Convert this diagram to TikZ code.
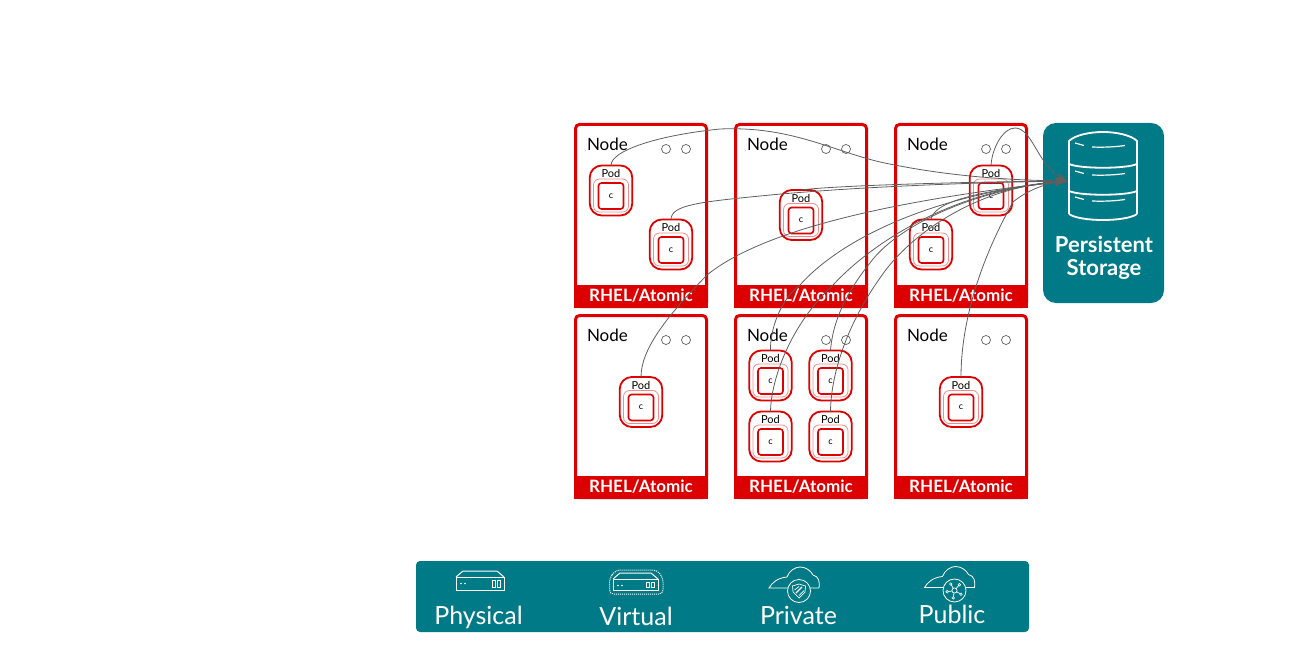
\documentclass[tikz,border=0pt]{standalone}
\usepackage{xcolor}
\usepackage{fontspec}
\setmainfont{Lato}
\usetikzlibrary{arrows.meta}
\definecolor{hostRed}{HTML}{DD0000}
\definecolor{paleRed}{HTML}{F08C8C}
\definecolor{bannerTeal}{HTML}{007A87}
\definecolor{linkGray}{HTML}{5F5F5F}

\begin{document}
\begin{tikzpicture}[x = 1pt, y = -1pt,
						every node/.style = {outer sep = 0pt},
						hostFrame/.style = {draw = hostRed, line width = 3pt, rounded corners = 4pt, minimum width = 131pt, minimum height = 182pt, inner sep = 0pt},
						hostBand/.style = {fill = hostRed, text = white, minimum width = 134pt, minimum height = 23pt, inner sep = 0pt, font = \fontsize{17}{20}\selectfont\bfseries},
						hostLabel/.style = {inner sep = 0pt, anchor = west, font = \fontsize{17}{20}\selectfont},
						hostDot/.style = {draw = linkGray, line width = 0.7pt},
						podOuter/.style = {draw = hostRed, line width = 1.8pt, rounded corners = 12pt, minimum width = 42.5pt, minimum height = 50pt, inner sep = 0pt},
						podMiddle/.style = {draw = paleRed, line width = 0.8pt, rounded corners = 6pt, minimum width = 35pt, minimum height = 33pt, inner sep = 0pt},
						podInner/.style = {draw = hostRed, line width = 1.6pt, rounded corners = 3pt, minimum width = 25pt, minimum height = 26pt, inner sep = 0pt, font = \fontsize{9}{10}\selectfont},
						podLabel/.style = {inner sep = 0pt, font = \fontsize{11}{13}\selectfont},
						podLink/.style = {draw = linkGray, line width = 0.8pt, -{Stealth[length = 12pt, width = 8pt]}},
						iconLine/.style = {draw = white, line width = 1pt},
						baseLabel/.style = {text = white, inner sep = 0pt, font = \fontsize{25}{28}\selectfont},
						]

	\useasboundingbox (0, 0) rectangle (1297, 660);

	% Storage box
	\node[fill = bannerTeal, rounded corners = 13pt, minimum width = 121pt, minimum height = 180pt, inner sep = 0pt] (storage) at (1103.5, 213) {};
	\node[text = white, align = center, inner sep = 0pt, font = \fontsize{22}{23}\selectfont\bfseries] (storageLabel) at (1104, 258) {Persistent\\Storage};
	\coordinate (storageTip) at (1067, 181);

	% Database stack
	\draw[draw = white, line width = 1.8pt, line join = round] (1069, 214) -- (1069, 141) .. controls (1075, 135) and (1090, 132) .. (1103, 132) .. controls (1116, 132) and (1131, 135) .. (1137, 141) -- (1137, 214);
	\foreach \dy/\sag in {0/5, 27/5, 50/8} {
		\draw[draw = white, line width = 1.8pt] (1069, 164 + \dy) .. controls (1080, 164 + \dy + \sag) and (1126, 164 + \dy + \sag) .. (1137, 164 + \dy);
	}
	\foreach \dy in {0, 28, 54} {
		\draw[draw = white, line width = 1.2pt] (1075, 143 + \dy) -- (1084, 145.5 + \dy);
		\draw[draw = white, line width = 1.2pt] (1092, 147 + \dy) .. controls (1103, 147.5 + \dy) and (1115, 147 + \dy) .. (1125, 145.5 + \dy);
	}

	% Hosts
	\foreach \hostName/\hostX/\hostY in {hostA/641/215.5, hostB/801/215.5, hostC/961/215.5, hostD/641/406.5, hostE/801/406.5, hostF/961/406.5} {
		\node[hostFrame] (\hostName) at (\hostX, \hostY) {};
		\node[hostBand, anchor = south] (\hostName Band) at ([yshift = -1pt]\hostName.south) {RHEL/Atomic};
		\node[hostLabel] (\hostName Label) at ([xshift = -54pt, yshift = -19.5pt]\hostName.north) {Node};
		\draw[hostDot] ([xshift = 25pt, yshift = -24.5pt]\hostName.north) circle[radius = 4.5];
		\draw[hostDot] ([xshift = 45pt, yshift = -24.5pt]\hostName.north) circle[radius = 4.5];
	}

	% Pods
	\foreach \podName/\podX/\podY in {podA/611/190.5, podB/671/244.5, podC/801/215, podD/991/190.5, podE/931/244.5, podF/641/402, podG/770.5/375.5, podH/830.5/375.5, podI/770.5/436.5, podJ/830.5/436.5, podK/961/402} {
		\node[podOuter] (\podName) at (\podX, \podY) {};
		\node[podMiddle] (\podName Middle) at ([yshift = -5pt]\podName.center) {};
		\node[podInner] (\podName Inner) at ([yshift = -5.5pt]\podName.center) {c};
		\node[podLabel] (\podName Label) at ([yshift = -8pt]\podName.north) {Pod};
	}

	% Links to storage
	\draw[podLink] (podA.north) .. controls (611, 150) and (660, 135) .. (720, 129) .. controls (790, 126) and (830, 150) .. (880, 162) .. controls (940, 175) and (1000, 180) .. (storageTip);
	\draw[podLink] (podB.north) .. controls (671, 205) and (700, 202) .. (760, 196) .. controls (840, 188) and (950, 183) .. (storageTip);
	\draw[podLink] (podC.north) .. controls (830, 186) and (950, 182) .. (storageTip);
	\draw[podLink] (podD.north) .. controls (992, 148) and (1003, 128) .. (1015, 128) .. controls (1032, 128) and (1038, 165) .. (storageTip);
	\draw[podLink] (podE.north) .. controls (934, 205) and (960, 193) .. (storageTip);
	\draw[podLink] (podF.north) .. controls (641, 350) and (665, 318) .. (707, 275) .. controls (750, 240) and (850, 205) .. (storageTip);
	\draw[podLink] (podG.north) .. controls (770, 330) and (780, 300) .. (800, 285) .. controls (840, 240) and (930, 195) .. (storageTip);
	\draw[podLink] (podH.north) .. controls (832, 330) and (840, 300) .. (870, 263) .. controls (895, 228) and (970, 190) .. (storageTip);
	\draw[podLink] (podI.north) .. controls (771, 380) and (790, 325) .. (833, 285) .. controls (870, 245) and (950, 190) .. (storageTip);
	\draw[podLink] (podJ.north) .. controls (831, 370) and (850, 320) .. (880, 278) .. controls (905, 240) and (970, 188) .. (storageTip);
	\draw[podLink] (podK.north) .. controls (961, 330) and (975, 270) .. (1013, 202) .. controls (1030, 188) and (1050, 183) .. (storageTip);

	% Footprint banner
	\node[fill = bannerTeal, rounded corners = 4pt, minimum width = 613pt, minimum height = 71pt, inner sep = 0pt] (banner) at (722.5, 596.5) {};
	\node[baseLabel] (physicalLabel) at (478.5, 617.5) {Physical};
	\node[baseLabel] (virtualLabel) at (636, 616) {Virtual};
	\node[baseLabel] (privateLabel) at (798.5, 615) {Private};
	\node[baseLabel] (publicLabel) at (952, 614) {Public};

	% Server icons
	\foreach \ix/\iy/\iw/\ih in {456/571/48/19, 613/573/45/17} {
		\draw[iconLine] (\ix, \iy + 6) rectangle (\ix + \iw, \iy + \ih);
		\draw[iconLine] (\ix, \iy + 6) -- (\ix + 7, \iy) -- (\ix + \iw - 7, \iy) -- (\ix + \iw, \iy + 6);
		\fill[white] (\ix + 5, \iy + 12.5) circle[radius = 0.8];
		\fill[white] (\ix + 9, \iy + 12.5) circle[radius = 0.8];
		\draw[iconLine, line width = 0.7pt] (\ix + \iw - 12, \iy + 9) rectangle (\ix + \iw - 9, \iy + \ih - 3);
		\draw[iconLine, line width = 0.7pt] (\ix + \iw - 7, \iy + 9) rectangle (\ix + \iw - 4, \iy + \ih - 3);
	}
	\draw[iconLine, densely dotted, rounded corners = 4pt] (609.5, 578) -- (616, 570) -- (657, 570) -- (663, 578) -- (663, 594) -- (609.5, 594) -- cycle;

	% Cloud icons
	\foreach \ix/\iy in {799/591, 954.5/590.5} {
		\draw[iconLine, line width = 0.8pt] (\ix - 30, \iy - 3) .. controls (\ix - 27, \iy - 8) and (\ix - 22, \iy - 13) .. (\ix - 12, \iy - 14) .. controls (\ix - 10, \iy - 20) and (\ix - 4, \iy - 24) .. (\ix + 1, \iy - 24) .. controls (\ix + 7, \iy - 24) and (\ix + 12, \iy - 20) .. (\ix + 14, \iy - 16) .. controls (\ix + 20, \iy - 15) and (\ix + 21, \iy - 8) .. (\ix + 20, \iy - 3) -- cycle;
		\fill[bannerTeal] (\ix, \iy) circle[radius = 11.5];
		\draw[iconLine, line width = 0.8pt] (\ix, \iy) circle[radius = 11.5];
	}

	% Shield inside the private cloud
	\draw[iconLine, line width = 0.7pt] (792.5, 586) -- (799, 584) -- (805.5, 586) -- (805, 592) -- (799, 598) -- (793, 592) -- cycle;
	\draw[iconLine, line width = 1.2pt] (796, 593) -- (802, 587);
	\draw[iconLine, line width = 0.7pt] (794.5, 590) -- (799, 586.5);
	\draw[iconLine, line width = 0.7pt] (799, 595.5) -- (804, 590.5);

	% Hub inside the public cloud
	\foreach \spokeAngle in {30, 100, 170, 240, 310} {
		\draw[iconLine, line width = 0.7pt] (954.5, 590.5) -- ++(\spokeAngle : 7);
		\draw[iconLine, line width = 0.6pt, fill = bannerTeal] (954.5, 590.5) ++(\spokeAngle : 7.5) circle[radius = 1.3];
	}
	\draw[iconLine, line width = 0.7pt, fill = bannerTeal] (954.5, 590.5) circle[radius = 2.6];

\end{tikzpicture}
\end{document}
